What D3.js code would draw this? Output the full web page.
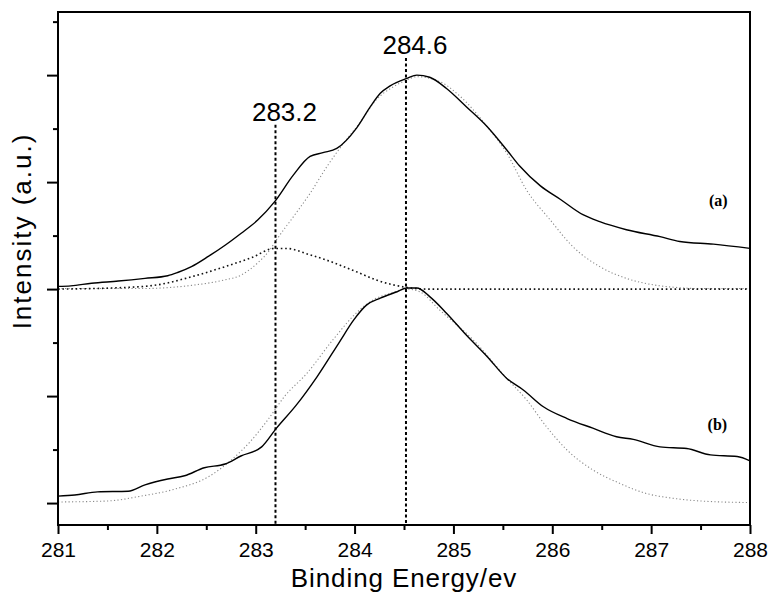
<!DOCTYPE html>
<html>
<head>
<meta charset="utf-8">
<script src="https://cdn.jsdelivr.net/npm/d3@7"></script>
<style>
body { margin: 0; background: #fff; }
svg { display: block; }
text { font-family: "Liberation Sans", Arial, sans-serif; fill: #000; }
.tick text { font-size: 21px; }
.tag { font-family: "Liberation Serif", "Times New Roman", serif; font-weight: bold; font-size: 16px; }
</style>
</head>
<body>
<div id="container"></div>
<script>
const WIDTH = 770;
const HEIGHT = 593;
const LEFT = 58, RIGHT = 750, TOP = 12, BOTTOM = 525;

// tick values
const ENERGY_TICKS = [281, 282, 283, 284, 285, 286, 287, 288];
const ENERGY_MINOR = [281.5, 282.5, 283.5, 284.5, 285.5, 286.5, 287.5];
const INTENSITY_MAJOR = [0, 2, 4, 6, 8];
const INTENSITY_MINOR = [1, 3, 5, 7, 9];

// spectrum (a): measured, main fit peak, 283.2 component
var measuredA = [[281.00, 4.05], [281.13, 4.06], [281.34, 4.11], [281.61, 4.15], [281.88, 4.20],
    [282.11, 4.25], [282.21, 4.31], [282.35, 4.42], [282.52, 4.61], [282.69, 4.82], [282.85, 5.04],
    [283.02, 5.29], [283.19, 5.63], [283.38, 6.13], [283.55, 6.48], [283.68, 6.55], [283.82, 6.63],
    [284.02, 7.01], [284.16, 7.41], [284.26, 7.66], [284.36, 7.80], [284.53, 7.94], [284.63, 8.00],
    [284.76, 7.96], [284.93, 7.75], [285.13, 7.41], [285.34, 7.04], [285.54, 6.60], [285.67, 6.30],
    [285.88, 5.93], [286.08, 5.68], [286.31, 5.39], [286.48, 5.26], [286.75, 5.11], [287.09, 4.98],
    [287.29, 4.89], [287.63, 4.84], [288.00, 4.76]];
var fitMainA = [[281.00, 4.01], [281.84, 4.01], [282.35, 4.07], [282.68, 4.17], [282.85, 4.26],
    [283.02, 4.49], [283.15, 4.75], [283.21, 4.92], [283.38, 5.35], [283.55, 5.79], [283.72, 6.29],
    [283.89, 6.73], [284.05, 7.10], [284.22, 7.54], [284.39, 7.78], [284.53, 7.91], [284.63, 7.97],
    [284.86, 7.88], [285.07, 7.60], [285.34, 7.04], [285.54, 6.54], [285.74, 5.85], [285.98, 5.29],
    [286.21, 4.79], [286.48, 4.42], [286.75, 4.20], [287.02, 4.08], [287.26, 4.03], [287.49, 4.01],
    [288.00, 4.01]];
var fitShoulderA = [[281.00, 4.00], [281.67, 4.03], [282.01, 4.08], [282.35, 4.23], [282.69, 4.42],
    [282.96, 4.59], [283.19, 4.76], [283.31, 4.76], [283.55, 4.64], [283.72, 4.54], [283.89, 4.42],
    [284.05, 4.30], [284.22, 4.17], [284.39, 4.08], [284.53, 4.03], [284.73, 4.00], [288.00, 4.00]];

// spectrum (b): measured and fit
var measuredB = [[281.00, 0.13], [281.17, 0.15], [281.40, 0.21], [281.71, 0.22], [281.88, 0.34],
    [282.11, 0.45], [282.28, 0.51], [282.48, 0.66], [282.69, 0.73], [282.85, 0.88], [283.06, 1.05],
    [283.21, 1.40], [283.41, 1.83], [283.62, 2.36], [283.85, 3.02], [283.99, 3.42], [284.12, 3.70],
    [284.26, 3.83], [284.43, 3.95], [284.53, 4.02], [284.63, 4.02], [284.76, 3.86], [284.93, 3.55],
    [285.13, 3.14], [285.34, 2.74], [285.54, 2.33], [285.71, 2.11], [285.91, 1.80], [286.15, 1.58],
    [286.41, 1.40], [286.65, 1.24], [286.82, 1.19], [287.09, 1.05], [287.36, 1.02], [287.60, 0.90],
    [287.87, 0.87], [288.00, 0.79]];
var fitB = [[281.00, 0.02], [281.51, 0.04], [281.84, 0.13], [282.18, 0.26], [282.52, 0.49],
    [282.75, 0.80], [282.96, 1.18], [283.12, 1.55], [283.29, 1.99], [283.52, 2.43], [283.78, 3.05],
    [284.05, 3.61], [284.19, 3.80], [284.36, 3.92], [284.53, 4.00], [284.66, 3.95], [284.86, 3.61],
    [285.20, 3.05], [285.54, 2.33], [285.74, 1.93], [285.94, 1.43], [286.15, 0.99], [286.41, 0.62],
    [286.68, 0.37], [286.95, 0.18], [287.22, 0.09], [287.49, 0.04], [287.97, 0.01]];

// peak markers: position of the line, label text, top of the line (intensity)
var PEAK_POS = [283.2, 284.52];
var PEAK_LABELS = ["283.2", "284.6"];
var PEAK_TOPS = [7.07, 8.32];

var SVG;

var XScale = d3.scaleLinear().domain([281, 288]).range([LEFT, RIGHT]);
var YScale = d3.scaleLinear().domain([-0.41, 9.18]).range([BOTTOM, TOP]);

var line = d3.line()
    .x(function (d) { return XScale(d[0]); })
    .y(function (d) { return YScale(d[1]); })
    .curve(d3.curveMonotoneX);

var drawAxes = function (svg) {
    var styleAxis = function (g) {
        g.select(".domain").remove();
        g.selectAll(".tick line").attr("stroke", "#000").attr("stroke-width", 2);
    };
    svg.append("g")
        .attr("transform", "translate(0," + BOTTOM + ")")
        .call(d3.axisBottom(XScale).tickValues(ENERGY_TICKS).tickSize(9).tickPadding(8).tickFormat(d3.format("d")))
        .call(styleAxis);
    svg.append("g")
        .attr("transform", "translate(0," + BOTTOM + ")")
        .call(d3.axisBottom(XScale).tickValues(ENERGY_MINOR).tickSize(5).tickFormat(""))
        .call(styleAxis);
    svg.append("g")
        .attr("transform", "translate(" + LEFT + ",0)")
        .call(d3.axisLeft(YScale).tickValues(INTENSITY_MAJOR).tickSize(11).tickFormat(""))
        .call(styleAxis);
    svg.append("g")
        .attr("transform", "translate(" + LEFT + ",0)")
        .call(d3.axisLeft(YScale).tickValues(INTENSITY_MINOR).tickSize(5).tickFormat(""))
        .call(styleAxis);

    svg.append("rect")
        .attr("x", LEFT).attr("y", TOP)
        .attr("width", RIGHT - LEFT).attr("height", BOTTOM - TOP)
        .attr("fill", "none").attr("stroke", "#000").attr("stroke-width", 2);

    svg.append("text")
        .attr("x", (LEFT + RIGHT) / 2)
        .attr("y", 587)
        .attr("text-anchor", "middle")
        .attr("font-size", 26)
        .attr("letter-spacing", 0.9)
        .text("Binding Energy/ev");

    svg.append("text")
        .attr("transform", "translate(31,231) rotate(-90)")
        .attr("text-anchor", "middle")
        .attr("font-size", 26)
        .attr("letter-spacing", 2)
        .text("Intensity (a.u.)");
};

var drawCurve = function (svg, data, color, width, dash) {
    svg.append("path")
        .datum(data)
        .attr("d", line)
        .attr("fill", "none")
        .attr("stroke", color)
        .attr("stroke-width", width)
        .attr("stroke-dasharray", dash);
};

var drawPeaks = function (svg) {
    PEAK_POS.forEach(function (pos, i) {
        svg.append("line")
            .attr("x1", XScale(pos)).attr("x2", XScale(pos))
            .attr("y1", YScale(PEAK_TOPS[i])).attr("y2", BOTTOM)
            .attr("stroke", "#000").attr("stroke-width", 2)
            .attr("stroke-dasharray", "3,2.5");
        svg.append("text")
            .attr("x", XScale(pos) + 9)
            .attr("y", YScale(PEAK_TOPS[i]) - 4)
            .attr("text-anchor", "middle")
            .attr("font-size", 26)
            .text(PEAK_LABELS[i]);
    });
};

var generateChart = function () {
    SVG = d3.select("#container").append("svg")
        .attr("width", WIDTH)
        .attr("height", HEIGHT);

    drawCurve(SVG, fitMainA, "#8a8a8a", 1.1, "1.2,2.3");
    drawCurve(SVG, fitB, "#8a8a8a", 1.1, "1.2,2.3");
    drawCurve(SVG, fitShoulderA, "#111", 1.6, "1.6,2.8");
    drawPeaks(SVG);
    drawCurve(SVG, measuredA, "#000", 1.4, null);
    drawCurve(SVG, measuredB, "#000", 1.4, null);
    drawAxes(SVG);

    SVG.append("text").attr("class", "tag")
        .attr("x", XScale(287.68)).attr("y", YScale(5.55))
        .attr("text-anchor", "middle").text("(a)");
    SVG.append("text").attr("class", "tag")
        .attr("x", XScale(287.67)).attr("y", YScale(1.36))
        .attr("text-anchor", "middle").text("(b)");
};

window.onload = generateChart;
</script>
</body>
</html>
